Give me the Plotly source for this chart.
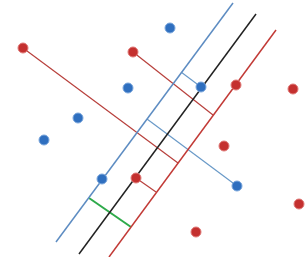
import plotly.graph_objects as go

# Data (image-pixel coordinate system)
red_x = [23, 133, 236, 293, 224, 299, 196, 136]
red_y = [48, 52, 85, 89, 146, 204, 232, 178]
blue_x = [170, 128, 78, 44, 201, 237, 102]
blue_y = [28, 88, 118, 140, 87, 186, 179]

# Hyperplane and margins (endpoints)
blue_margin_x = [56, 233]
blue_margin_y = [242, 3]
hyper_x = [79, 256]
hyper_y = [254, 14]
red_margin_x = [109, 276]
red_margin_y = [257, 30]

# Perpendicular distance segments
red_seg_x = [[23, 178], [133, 213], [136, 156]]
red_seg_y = [[48, 163], [52, 115], [178, 192]]
blue_seg_x = [[201, 181], [237, 147]]
blue_seg_y = [[87, 72], [186, 119]]
green_seg_x = [89, 131]
green_seg_y = [198, 227]

RED = "#c4302f"
BLUE = "#2f6fbf"
fig = go.Figure()

for xs, ys in zip(red_seg_x, red_seg_y):
    fig.add_trace(go.Scatter(x=xs, y=ys, mode="lines",
                             line=dict(color="#b8403c", width=1.2), hoverinfo="skip"))
for xs, ys in zip(blue_seg_x, blue_seg_y):
    fig.add_trace(go.Scatter(x=xs, y=ys, mode="lines",
                             line=dict(color="#6a9ac8", width=1.2), hoverinfo="skip"))
fig.add_trace(go.Scatter(x=green_seg_x, y=green_seg_y, mode="lines",
                         line=dict(color="#2eaa4a", width=2), hoverinfo="skip"))

fig.add_trace(go.Scatter(x=blue_margin_x, y=blue_margin_y, mode="lines",
                         line=dict(color="#5d8cc2", width=1.5)))
fig.add_trace(go.Scatter(x=hyper_x, y=hyper_y, mode="lines",
                         line=dict(color="#222222", width=1.5)))
fig.add_trace(go.Scatter(x=red_margin_x, y=red_margin_y, mode="lines",
                         line=dict(color="#c23a36", width=1.5)))

fig.add_trace(go.Scatter(x=red_x, y=red_y, mode="markers",
                         marker=dict(color=RED, size=10,
                                     line=dict(color="#e07a78", width=1))))
fig.add_trace(go.Scatter(x=blue_x, y=blue_y, mode="markers",
                         marker=dict(color=BLUE, size=10,
                                     line=dict(color="#7aa6dc", width=1))))

fig.update_layout(
    width=308, height=257,
    margin=dict(l=0, r=0, t=0, b=0),
    showlegend=False,
    paper_bgcolor="white", plot_bgcolor="white",
    xaxis=dict(range=[0, 308], visible=False, fixedrange=True),
    yaxis=dict(range=[257, 0], visible=False, fixedrange=True),
)
fig.write_html(
    "out.html",
    config={"displayModeBar": False},
    post_script="document.body.style.margin='0';document.body.style.overflow='hidden';",
)
